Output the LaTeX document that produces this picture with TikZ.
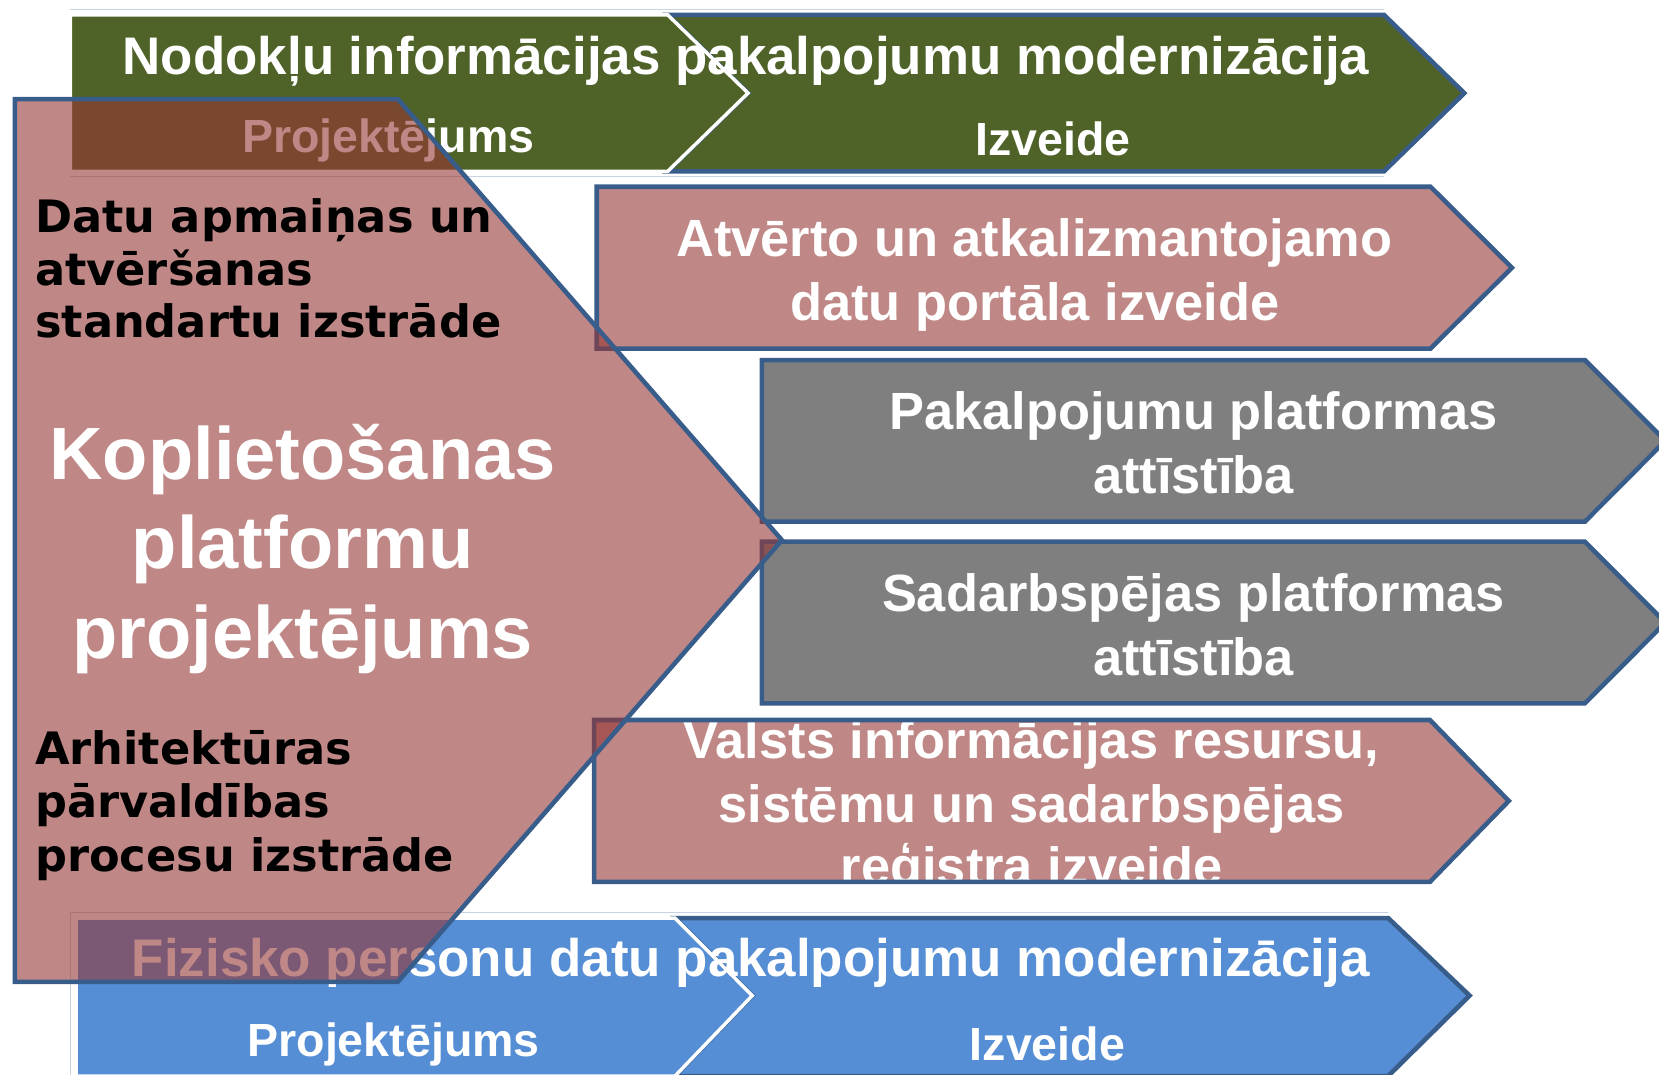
\documentclass[tikz,border=0pt]{standalone}
\usepackage{fontspec}
\setmainfont{Liberation Sans}
\newfontfamily\dvs{DejaVu Sans}
\definecolor{olv}{HTML}{4F6228}
\definecolor{gry}{HTML}{7F7F7F}
\definecolor{blu}{HTML}{558ED5}
\definecolor{rosebase}{HTML}{953735}
\definecolor{obl}{HTML}{385D8A}
\definecolor{lightln}{RGB}{200,210,225}
\tikzset{
  edge/.style={draw=obl, line width=4.3pt},
  whiteedge/.style={draw=white, line width=3.3pt},
  pinkfill/.style={fill=rosebase, fill opacity=0.6},
  lightline/.style={draw=lightln, line width=1.2pt},
  wt/.style={text=white, font=\bfseries\fontsize{50}{60}\selectfont, inner sep=0pt, anchor=base},
  st/.style={text=white, font=\bfseries\fontsize{44}{52}\selectfont, inner sep=0pt, anchor=base},
  lt/.style={text=white, font=\bfseries\fontsize{49.5}{60}\selectfont, inner sep=0pt, anchor=base},
  kt/.style={text=white, font=\bfseries\fontsize{70}{84}\selectfont, inner sep=0pt, anchor=base},
  bt/.style={text=black, font=\dvs\bfseries\fontsize{42.2}{50}\selectfont, inner sep=0pt, anchor=base west}
}
\begin{document}
\begin{tikzpicture}[x=1pt,y=-1pt,line join=miter]
\useasboundingbox (0,0) rectangle (1568,1016);
\clip (0,0) rectangle (1568,1016);

% faint frame lines of the two bands
\draw[lightline] (66,8.8) -- (1308,8.8);
\draw[lightline] (66,167) -- (1308,167);
\draw[lightline] (1312,862.6) -- (66.8,862.6) -- (66.8,1016);

% top green band
\path[fill=olv, edge] (631,14) -- (1308,14) -- (1384,88) -- (1308,162) -- (631,162) -- (707,88) -- cycle;
\path[fill=olv, whiteedge] (66.5,14) -- (631,14) -- (707,88) -- (631,162) -- (66.5,162) -- cycle;
\node[wt] (nod) at (705,70) {Nodokļu informācijas pakalpojumu modernizācija};
\node[st] (nodp) at (367,144) {Projektējums};
\node[st] (nodi) at (995,146.5) {Izveide};

% bottom blue band
\path[fill=blu, edge] (638,867.7) -- (1312,867.7) -- (1389,941) -- (1312,1017) -- (638,1017) -- (711,941) -- cycle;
\path[fill=blu, whiteedge] (72,867.7) -- (638,867.7) -- (711,941) -- (638,1017) -- (72,1017) -- cycle;
\node[wt] (fiz) at (709.5,923) {Fizisko personu datu pakalpojumu modernizācija};
\node[st] (fizp) at (372,999) {Projektējums};
\node[st] (fizi) at (990,1002.5) {Izveide};

% right-hand chevrons
\path[pinkfill, edge] (564,176.5) -- (1352,176.5) -- (1429,253) -- (1352,329.5) -- (564,329.5) -- cycle;
\node[lt] (atv1) at (977.5,242.5) {Atvērto un atkalizmantojamo};
\node[lt] (atv2) at (978,302.5) {datu portāla izveide};

\path[fill=gry, edge] (720,340.3) -- (1498,340.3) -- (1574,416.6) -- (1498,493) -- (720,493) -- cycle;
\node[lt] (pak1) at (1128,406) {Pakalpojumu platformas};
\node[lt] (pak2) at (1128,466) {attīstība};

\path[fill=gry, edge] (720,512) -- (1498,512) -- (1574,588.4) -- (1498,664.7) -- (720,664.7) -- cycle;
\node[lt] (sad1) at (1128,578) {Sadarbspējas platformas};
\node[lt] (sad2) at (1128,638) {attīstība};

\path[pinkfill] (561.5,680.5) -- (1351.5,680.5) -- (1426,757) -- (1351.5,833.5) -- (561.5,833.5) -- cycle;
\node[lt] (val1) at (975,717) {Valsts informācijas resursu,};
\node[lt] (val2) at (975,777) {sistēmu un sadarbspējas};
\node[lt] (val3) at (975,836) {reģistra izveide};
\draw[edge] (561.5,680.5) -- (1351.5,680.5) -- (1426,757) -- (1351.5,833.5) -- (561.5,833.5) -- cycle;

% large left chevron
\path[pinkfill, edge] (14,93.6) -- (376,93.6) -- (739,510.5) -- (376,928) -- (14,928) -- cycle;
\node[bt] (da1) at (33,220) {Datu apmaiņas un};
\node[bt] (da2) at (33,269.5) {atvēršanas};
\node[bt] (da3) at (33,319) {standartu izstrāde};
\node[kt] (ko1) at (286,453) {Koplietošanas};
\node[kt] (ko2) at (286,537.5) {platformu};
\node[kt] (ko3) at (286,622) {projektējums};
\node[bt] (ar1) at (33,723) {Arhitektūras};
\node[bt] (ar2) at (33,773) {pārvaldības};
\node[bt] (ar3) at (33,823.5) {procesu izstrāde};
\end{tikzpicture}
\end{document}
